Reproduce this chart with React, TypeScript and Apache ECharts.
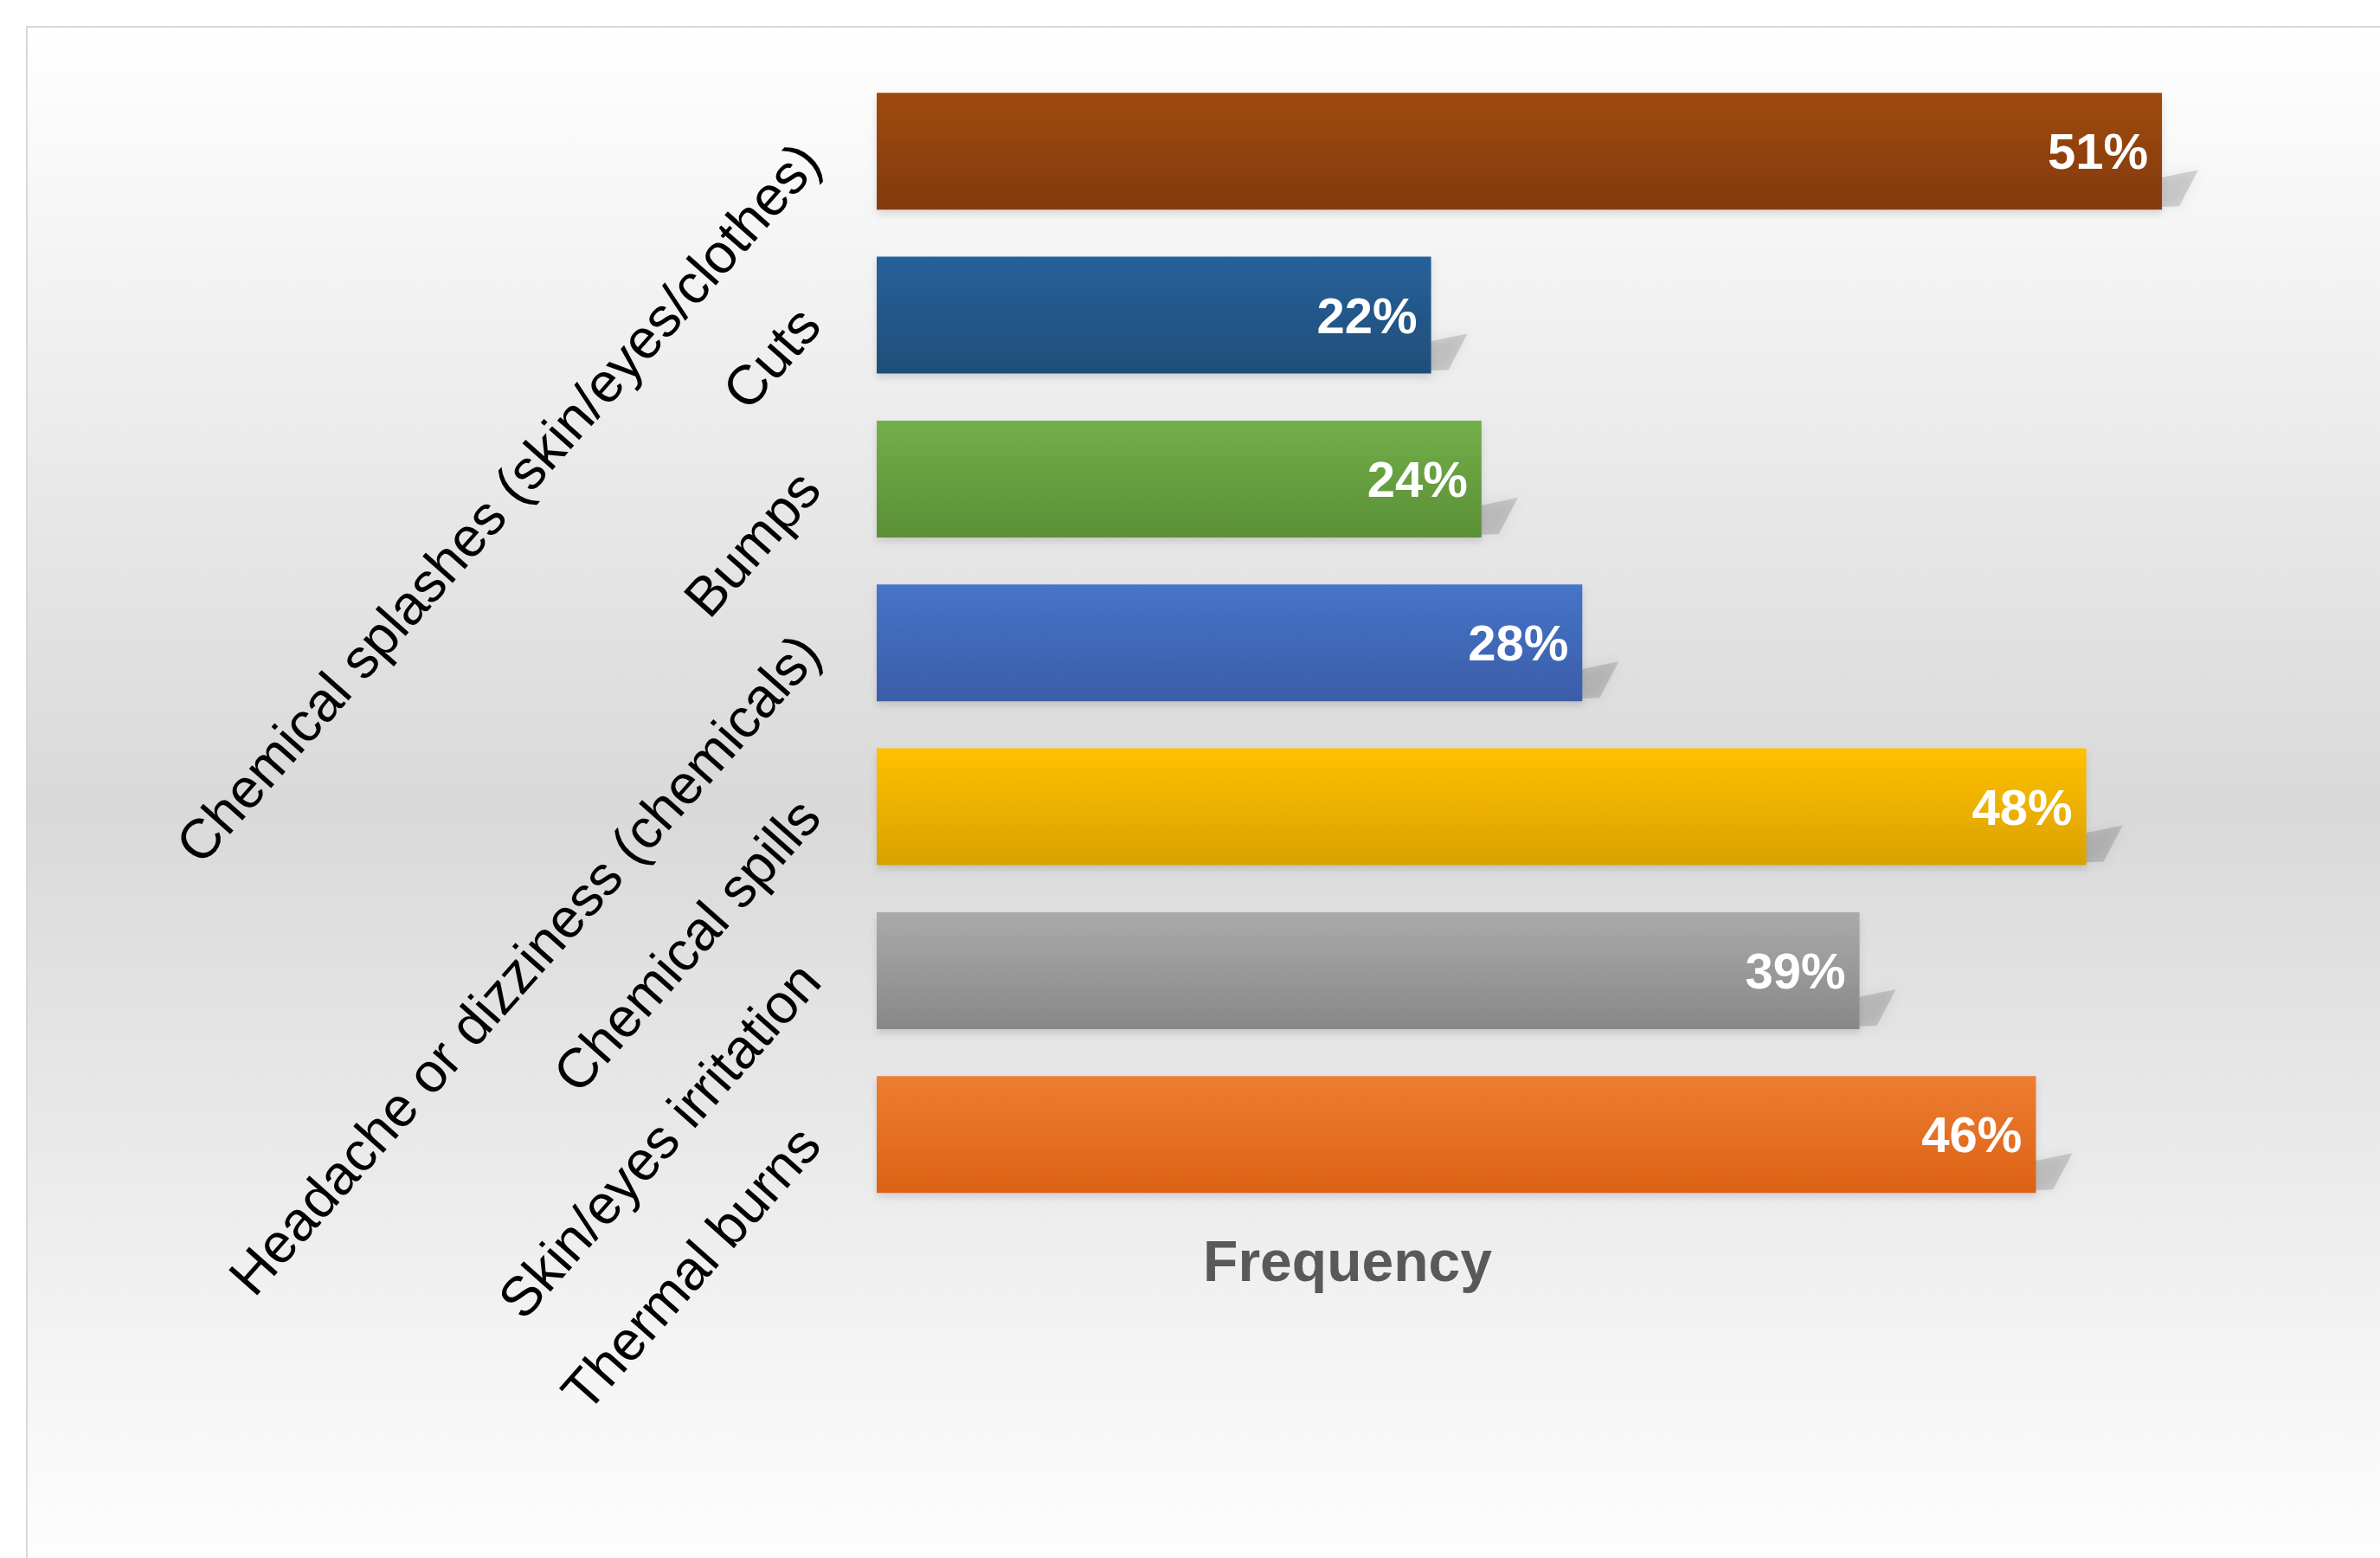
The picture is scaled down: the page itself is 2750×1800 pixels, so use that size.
import React, { useEffect, useRef } from "react";
import * as echarts from "echarts";

const categories = [
  "Chemical splashes (skin/eyes/clothes)",
  "Cuts",
  "Bumps",
  "Headache or dizziness (chemicals)",
  "Chemical spills",
  "Skin/eyes irritation",
  "Thermal burns",
];
const values = [51, 22, 24, 28, 48, 39, 46];
const topColors = ["#9F4A10", "#27619A", "#73AF49", "#4674C8", "#FFC000", "#AAAAAA", "#ED7D31"];
const bottomColors = ["#833A0B", "#1F4E79", "#5A8F37", "#3A5DA8", "#D9A100", "#888888", "#DC6215"];
const axisTitle = "Frequency";

const W = 2750;
const H = 1800;

export default function App() {
  const ref = useRef<HTMLDivElement>(null);
  useEffect(() => {
    if (!ref.current) return;
    const chart = echarts.init(ref.current, undefined, { renderer: "svg" });
    const barFrac = 0.713;
    const option: any = {
      animation: false,
      backgroundColor: "#ffffff",
      textStyle: { fontFamily: "Liberation Sans, Arial, sans-serif" },
      graphic: [
        {
          type: "rect",
          z: -100,
          silent: true,
          shape: { x: 31, y: 31, width: 2780, height: 1800 },
          style: {
            fill: new echarts.graphic.LinearGradient(0, 0, 0, 1, [
              { offset: 0, color: "#ffffff" },
              { offset: 0.5, color: "#d9d9d9" },
              { offset: 1, color: "#ffffff" },
            ]),
            stroke: "#d9d9d9",
            lineWidth: 2,
          },
        },
        {
          type: "text",
          x: 1557,
          y: 1457,
          style: {
            text: axisTitle,
            fontSize: 66,
            fontWeight: "bold",
            fontFamily: "Liberation Sans, Arial, sans-serif",
            fill: "#595959",
            align: "center",
            verticalAlign: "middle",
          },
        },
      ],
      grid: { left: 1013, top: 80, right: 135.5, bottom: 394.5, containLabel: false },
      xAxis: {
        type: "value",
        min: 0,
        max: 55,
        show: false,
        splitLine: { show: false },
      },
      yAxis: {
        type: "category",
        inverse: true,
        data: categories,
        axisLine: { show: false },
        axisTick: { show: false },
        splitLine: { show: false },
        axisLabel: {
          rotate: 48.5,
          margin: 78,
          fontSize: 64,
          color: "#000000",
          fontFamily: "Liberation Sans, Arial, sans-serif",
        },
      },
      series: [
        {
          type: "custom",
          z: 1,
          silent: true,
          data: values.map((v, i) => [v, i]),
          renderItem: (params: any, api: any) => {
            const v = api.value(0);
            const idx = api.value(1);
            const end = api.coord([v, idx]);
            const band = api.size([0, 1])[1];
            const h = band * barFrac;
            const yB = end[1] + h / 2;
            const x = end[0];
            return {
              type: "polygon",
              shape: {
                points: [
                  [x - 6, yB - 3],
                  [x - 6, yB - 36],
                  [x + 42, yB - 46],
                  [x + 20, yB - 4],
                ],
              },
              style: {
                fill: "rgba(0,0,0,0.14)",
                shadowBlur: 14,
                shadowColor: "rgba(0,0,0,0.5)",
              },
            };
          },
        },
        {
          type: "bar",
          z: 2,
          barCategoryGap: "28.7%",
          data: values.map((v, i) => ({
            value: v,
            itemStyle: {
              color: new echarts.graphic.LinearGradient(0, 0, 0, 1, [
                { offset: 0, color: topColors[i] },
                { offset: 1, color: bottomColors[i] },
              ]),
              shadowBlur: 8,
              shadowOffsetY: 5,
              shadowColor: "rgba(0,0,0,0.12)",
            },
          })),
          label: {
            show: true,
            position: "insideRight",
            distance: 16,
            formatter: "{c}%",
            color: "#ffffff",
            fontSize: 58,
            fontWeight: "bold",
            fontFamily: "Liberation Sans, Arial, sans-serif",
          },
        },
      ],
    };
    chart.setOption(option);
    return () => chart.dispose();
  }, []);
  return (
    <div
      ref={ref}
      style={{ position: "absolute", left: 0, top: 0, width: W, height: H }}
    />
  );
}
